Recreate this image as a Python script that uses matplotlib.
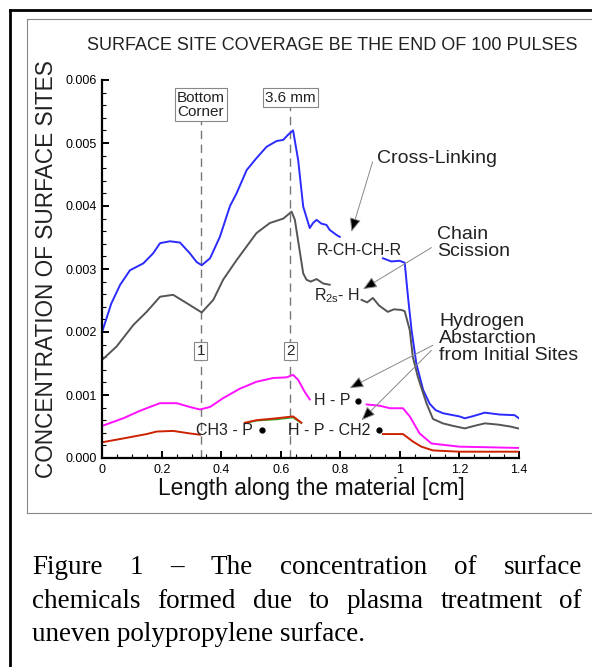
import numpy as np
import matplotlib
matplotlib.use('Agg')
from matplotlib import pyplot as plt
from matplotlib.lines import Line2D

# cross-linking (R-CH-CH-R), blue
blue_x1 = [0, 0.03, 0.06, 0.093, 0.138, 0.171, 0.194, 0.227, 0.261, 0.294, 0.317, 0.334, 0.362, 0.395,
           0.429, 0.451, 0.485, 0.518, 0.552, 0.585, 0.608, 0.624, 0.641, 0.658, 0.675, 0.697, 0.708,
           0.72, 0.736, 0.753, 0.764, 0.787, 0.798]
blue_y1 = [2.01, 2.45, 2.75, 2.98, 3.09, 3.25, 3.41, 3.44, 3.42, 3.25, 3.11, 3.06, 3.17, 3.51,
           4.00, 4.20, 4.57, 4.76, 4.94, 5.03, 5.05, 5.13, 5.20, 4.73, 3.99, 3.65, 3.73,
           3.78, 3.72, 3.70, 3.62, 3.54, 3.51]
blue_x2 = [0.943, 0.971, 0.999, 1.016, 1.027, 1.039, 1.055, 1.078, 1.1, 1.12, 1.145, 1.2, 1.218,
           1.25, 1.285, 1.335, 1.385, 1.4]
blue_y2 = [3.17, 3.12, 3.13, 3.10, 2.56, 2.03, 1.50, 1.08, 0.86, 0.76, 0.71, 0.66, 0.63,
           0.67, 0.72, 0.69, 0.68, 0.63]

# chain scission (R2s-H), gray
gray_x1 = [0, 0.048, 0.104, 0.149, 0.194, 0.238, 0.283, 0.334, 0.373, 0.406, 0.451, 0.518, 0.563,
           0.608, 0.636, 0.647, 0.675, 0.686, 0.70, 0.72, 0.742, 0.764]
gray_y1 = [1.56, 1.77, 2.11, 2.32, 2.56, 2.59, 2.46, 2.31, 2.51, 2.83, 3.14, 3.57, 3.73,
           3.80, 3.91, 3.78, 2.93, 2.83, 2.80, 2.84, 2.77, 2.75]
gray_x2 = [0.871, 0.89, 0.909, 0.93, 0.959, 0.98, 1.005, 1.016, 1.033, 1.043, 1.06, 1.089, 1.111,
           1.144, 1.178, 1.218, 1.25, 1.285, 1.33, 1.37, 1.397]
gray_y2 = [2.51, 2.47, 2.54, 2.42, 2.32, 2.36, 2.35, 2.33, 2.03, 1.61, 1.29, 0.87, 0.62,
           0.55, 0.51, 0.47, 0.51, 0.55, 0.53, 0.50, 0.47]

# H-P, magenta
mag_x1 = [0, 0.07, 0.127, 0.171, 0.194, 0.25, 0.294, 0.328, 0.362, 0.406, 0.462, 0.518, 0.574,
          0.619, 0.641, 0.658, 0.68, 0.697]
mag_y1 = [0.51, 0.63, 0.75, 0.83, 0.87, 0.87, 0.81, 0.77, 0.81, 0.95, 1.10, 1.21, 1.27,
          1.28, 1.32, 1.24, 1.05, 0.93]
mag_x2 = [0.888, 0.932, 0.966, 1.01, 1.033, 1.066, 1.106, 1.2, 1.3, 1.397]
mag_y2 = [0.85, 0.83, 0.79, 0.79, 0.66, 0.39, 0.23, 0.18, 0.17, 0.16]

# CH3-P / H-P-CH2, red (green under it)
red_x1 = [0, 0.07, 0.149, 0.183, 0.238, 0.294, 0.328]
red_y1 = [0.25, 0.31, 0.38, 0.42, 0.43, 0.39, 0.37]
red_x2 = [0.479, 0.518, 0.585, 0.641, 0.669]
red_y2 = [0.56, 0.60, 0.63, 0.66, 0.56]
green_y2 = [0.55, 0.59, 0.61, 0.64, 0.55]
red_x3 = [0.943, 1.01, 1.03, 1.044, 1.072, 1.111, 1.2, 1.3, 1.397]
red_y3 = [0.38, 0.38, 0.31, 0.26, 0.18, 0.12, 0.10, 0.10, 0.10]

x_ticks = [0, 0.2, 0.4, 0.6, 0.8, 1.0, 1.2, 1.4]
x_labels = ['0', '0.2', '0.4', '0.6', '0.8', '1', '1.2', '1.4']
y_ticks = [0, 0.001, 0.002, 0.003, 0.004, 0.005, 0.006]

sc = 1e-3
sans = 'Liberation Sans'

fig = plt.figure(figsize=(5.92, 6.67), dpi=100)
W, H = 592, 667

def fx(px):
    return px / W

def fy(py):
    return 1 - py / H

# page frames
fig.add_artist(Line2D([fx(10), fx(592)], [fy(10), fy(10)], color='black', lw=2))
fig.add_artist(Line2D([fx(10), fx(10)], [fy(10), fy(667)], color='black', lw=2))
fig.add_artist(Line2D([fx(27), fx(592)], [fy(19), fy(19)], color='#888888', lw=0.8))
fig.add_artist(Line2D([fx(27), fx(27)], [fy(19), fy(513)], color='#888888', lw=0.8))
fig.add_artist(Line2D([fx(27), fx(592)], [fy(513), fy(513)], color='#888888', lw=0.8))

ax = fig.add_axes([fx(102.3), fy(458), (519 - 102.3) / W, (458 - 80) / H])
ax.set_xlim(0, 1.4)
ax.set_ylim(0, 0.006)
ax.spines['top'].set_visible(False)
ax.spines['right'].set_visible(False)
ax.spines['left'].set_linewidth(1.6)
ax.spines['bottom'].set_linewidth(1.6)
ax.set_xticks(x_ticks)
ax.set_xticklabels(x_labels)
ax.set_yticks(y_ticks)
ax.set_yticklabels(['%.3f' % v for v in y_ticks])
ax.set_xticks(np.arange(0, 1.401, 0.05), minor=True)
ax.set_yticks(np.arange(0, 0.00601, 0.0002), minor=True)
ax.tick_params(which='major', direction='in', length=5, width=1.4, labelsize=9, pad=4)
ax.tick_params(which='minor', direction='in', length=3, width=0.8)
for lab in ax.get_xticklabels() + ax.get_yticklabels():
    lab.set_fontfamily(sans)
ax.patch.set_alpha(0)

# dashed guides
for xv in [0.331, 0.631]:
    ax.plot([xv, xv], [0, 0.0059], color='#777777', lw=1, ls=(0, (6, 4)), zorder=1)

lw = 1.4
ax.plot(blue_x1, np.array(blue_y1) * sc, color='#2b2bff', lw=lw)
ax.plot(blue_x2, np.array(blue_y2) * sc, color='#2b2bff', lw=lw)
ax.plot(gray_x1, np.array(gray_y1) * sc, color='#555555', lw=lw)
ax.plot(gray_x2, np.array(gray_y2) * sc, color='#555555', lw=lw)
ax.plot(mag_x1, np.array(mag_y1) * sc, color='#ff10ff', lw=lw)
ax.plot(mag_x2, np.array(mag_y2) * sc, color='#ff10ff', lw=lw)
ax.plot(red_x2, np.array(green_y2) * sc, color='#33aa33', lw=1)
ax.plot(red_x1, np.array(red_y1) * sc, color='#cc2200', lw=lw)
ax.plot(red_x2, np.array(red_y2) * sc, color='#cc2200', lw=lw)
ax.plot(red_x3, np.array(red_y3) * sc, color='#cc2200', lw=lw)

boxkw = dict(boxstyle='square,pad=0.15', fc='white', ec='#888888', lw=0.8)
ax.text(0.331, 0.00583, 'Bottom\nCorner', fontsize=11, family=sans, ha='center', va='top',
        ma='left', linespacing=1.0, bbox=boxkw, color='#222222')
ax.text(0.631, 0.00583, '3.6 mm', fontsize=11, family=sans, ha='center', va='top',
        bbox=boxkw, color='#222222')
ax.text(0.331, 0.0017, '1', fontsize=11, family=sans, ha='center', va='center', bbox=boxkw,
        color='#222222')
ax.text(0.631, 0.0017, '2', fontsize=11, family=sans, ha='center', va='center', bbox=boxkw,
        color='#222222')

tk = dict(fontsize=11.5, family=sans, color='#222222', va='center')
ax.text(0.721, 0.0033, 'R-CH-CH-R', ha='left', **tk)
ax.text(0.711, 0.00258, r'R$_{\mathregular{2s}}$- H', ha='left', **tk)
ax.text(0.711, 0.00091, 'H - P', ha='left', **tk)
ax.text(0.315, 0.00044, 'CH3 - P', ha='left', **tk)
ax.text(0.624, 0.00044, 'H - P - CH2', ha='left', **tk)
ax.plot([0.86, 0.535, 0.93], [0.00091, 0.00044, 0.00044], 'o', color='black', ms=3.5)

lk = dict(fontsize=14, family=sans, color='#222222', ha='left', va='center', linespacing=1.0)
ax.text(0.922, 0.00476, 'Cross-Linking', **lk)
ax.text(1.126, 0.00341, 'Chain\nScission', **lk)
ax.text(1.131, 0.00189, 'Hydrogen\nAbstarction\nfrom Initial Sites', **lk)

akh = dict(arrowstyle='-|>,head_length=0.6,head_width=0.25', fc='black', ec='#888888', lw=0.7,
           mutation_scale=14, shrinkA=0, shrinkB=0)
for (x0, y0, x1, y1) in [(0.908, 0.00470, 0.837, 0.00359),
                         (1.106, 0.00334, 0.876, 0.00268),
                         (1.111, 0.00179, 0.831, 0.00111),
                         (1.106, 0.00171, 0.871, 0.00060)]:
    ax.annotate('', xy=(x1, y1), xytext=(x0, y0), arrowprops=akh)

fig.text(fx(332.5), fy(45), 'SURFACE SITE COVERAGE BE THE END OF 100 PULSES', fontsize=13,
         family=sans, ha='center', va='center', color='#222222')
fig.text(fx(47), fy(269), 'CONCENTRATION OF SURFACE SITES', fontsize=16.3, family=sans,
         rotation=90, ha='center', va='center', color='#222222')
fig.text(fx(311), fy(488), 'Length along the material [cm]', fontsize=16.4, family=sans,
         ha='center', va='center', color='#111111')

# caption, justified like the page
serif = 'Liberation Serif'
cap1 = 'Figure 1 – The concentration of surface'.split(' ')
cap2 = 'chemicals formed due to plasma treatment of'.split(' ')
cap3 = 'uneven polypropylene surface.'
cap_fs = 19.5
r = fig.canvas.get_renderer()

def justify(words, base, x0, x1):
    ts = [fig.text(0, fy(base), w, fontsize=cap_fs, family=serif, va='baseline', ha='left')
          for w in words]
    widths = [t.get_window_extent(r).width for t in ts]
    gap = ((x1 - x0) - sum(widths)) / (len(words) - 1)
    x = x0
    for t, w in zip(ts, widths):
        t.set_x(fx(x))
        x += w + gap

justify(cap1, 574, 32, 582)
justify(cap2, 608, 32, 582)
fig.text(fx(32), fy(641), cap3, fontsize=cap_fs, family=serif, va='baseline', ha='left')

fig.savefig('out.png', dpi=100)
